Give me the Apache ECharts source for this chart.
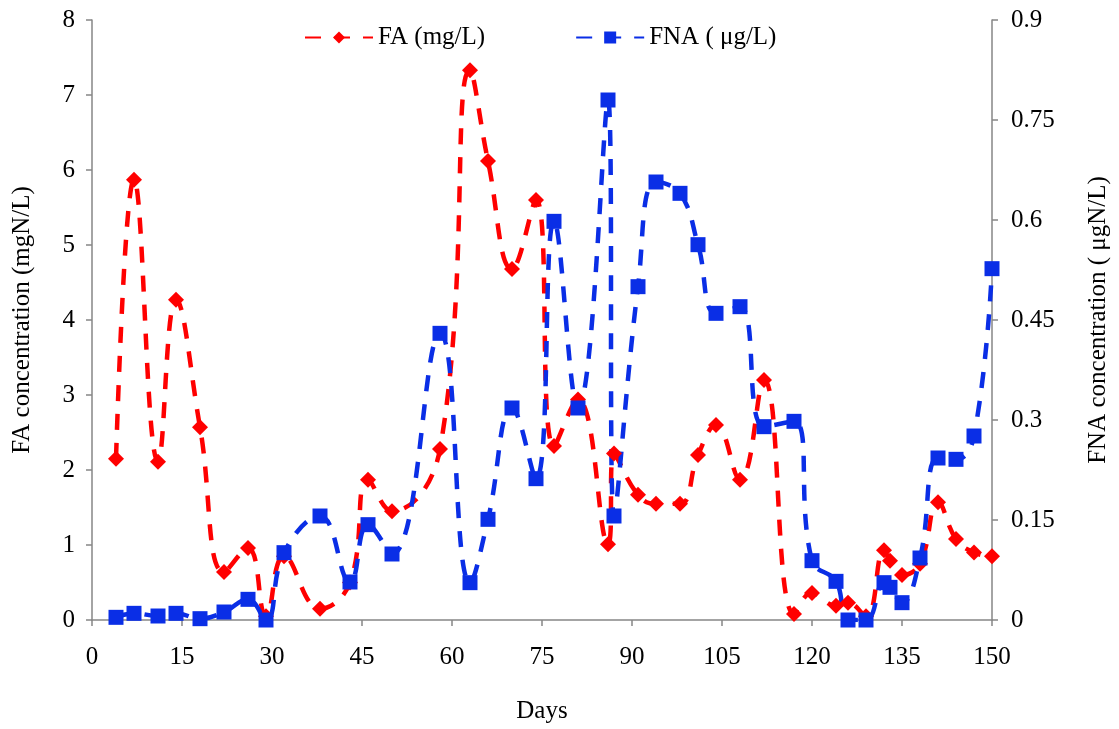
<!DOCTYPE html>
<html>
<head>
<meta charset="utf-8">
<script src="https://cdn.jsdelivr.net/npm/echarts@6/dist/echarts.min.js"></script>
<style>html,body{margin:0;padding:0;background:#fff;}#c{width:1119px;height:729px;}</style>
</head>
<body>
<div id="c"></div>
<script>
const days = [4,7,11,14,18,22,26,29,32,38,43,46,50,58,63,66,70,74,77,81,86,87,91,94,98,101,104,108,112,117,120,124,126,129,132,133,135,138,141,144,147,150];
const faValues = [2.15,5.87,2.11,4.27,2.57,0.64,0.96,0.05,0.85,0.15,0.5,1.87,1.45,2.28,7.33,6.12,4.68,5.6,2.32,2.94,1.01,2.22,1.67,1.55,1.55,2.2,2.6,1.87,3.2,0.08,0.36,0.19,0.23,0.05,0.93,0.79,0.6,0.75,1.57,1.08,0.9,0.85];
const fnaValues = [0.004,0.01,0.006,0.01,0.002,0.012,0.031,0,0.101,0.156,0.057,0.143,0.099,0.43,0.056,0.151,0.318,0.212,0.598,0.318,0.78,0.156,0.5,0.657,0.64,0.563,0.46,0.47,0.29,0.298,0.089,0.058,0,0,0.056,0.049,0.026,0.093,0.243,0.241,0.276,0.527];
const seriesNames = ['FA (mg/L)', 'FNA ( \u03bcg/L)'];
const axisNames = ['Days', 'FA concentration (mgN/L)', 'FNA concentration ( \u03bcgN/L)'];

const font = 'Liberation Serif, Times New Roman, serif';
const fs = 25;
const axisGrey = '#868686';
const chart = echarts.init(document.getElementById('c'));
const pair = (xs, ys) => xs.map((x, i) => [x, ys[i]]);
const yCommon = {
  type: 'value',
  nameLocation: 'middle',
  nameRotate: 90,
  nameTextStyle: {fontFamily: font, fontSize: fs, color: '#000'},
  axisLine: {show: true, lineStyle: {color: axisGrey, width: 1.5}},
  axisTick: {show: true, length: 6, lineStyle: {color: axisGrey, width: 1.5}},
  axisLabel: {fontFamily: font, fontSize: fs, color: '#000'},
  splitLine: {show: false}
};
chart.setOption({
  animation: false,
  backgroundColor: '#fff',
  grid: {left: 92, right: 126, top: 20, bottom: 108, containLabel: false},
  legend: {
    top: 20, left: 299,
    itemWidth: 68, itemHeight: 15, itemGap: 90,
    textStyle: {fontFamily: font, fontSize: fs, color: '#000'},
    data: seriesNames
  },
  xAxis: {
    type: 'value', min: 0, max: 150, interval: 15,
    name: axisNames[0], nameLocation: 'middle', nameGap: 79,
    nameTextStyle: {fontFamily: font, fontSize: fs, color: '#000'},
    axisLine: {show: true, lineStyle: {color: axisGrey, width: 1.5}},
    axisTick: {show: true, length: 6, lineStyle: {color: axisGrey, width: 1.5}},
    axisLabel: {fontFamily: font, fontSize: fs, color: '#000', margin: 25},
    splitLine: {show: false}
  },
  yAxis: [
    Object.assign({}, yCommon, {min: 0, max: 8, interval: 1, name: axisNames[1], nameGap: 57, position: 'left',
      axisLabel: Object.assign({}, yCommon.axisLabel, {margin: 17})}),
    Object.assign({}, yCommon, {min: 0, max: 0.9, interval: 0.15, name: axisNames[2], nameGap: 94, position: 'right',
      axisLabel: Object.assign({}, yCommon.axisLabel, {margin: 19})})
  ],
  series: [
    {
      name: seriesNames[0], type: 'line', yAxisIndex: 0, smooth: 0.45,
      data: pair(days, faValues),
      symbol: 'diamond', symbolSize: 16,
      itemStyle: {color: '#FF0000'},
      lineStyle: {color: '#FF0000', width: 4.5, type: [16, 13]}
    },
    {
      name: seriesNames[1], type: 'line', yAxisIndex: 1, smooth: 0.45,
      data: pair(days, fnaValues),
      symbol: 'rect', symbolSize: 15,
      itemStyle: {color: '#0A2EE6'},
      lineStyle: {color: '#0A2EE6', width: 4.5, type: [16, 13]}
    }
  ]
});
</script>
</body>
</html>
